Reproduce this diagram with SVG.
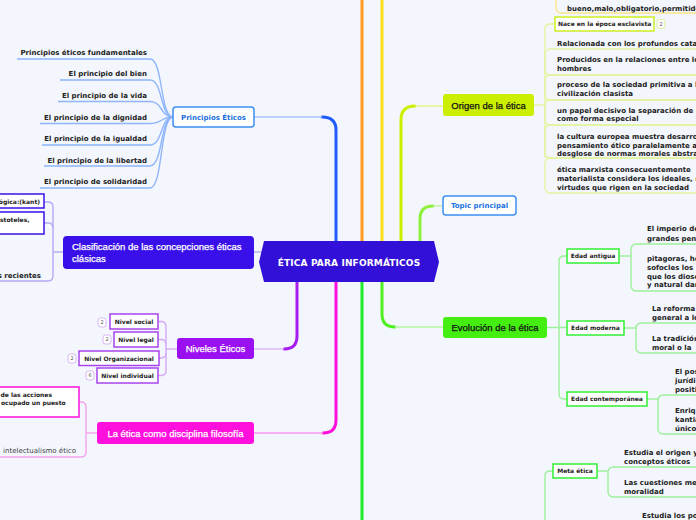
<svg xmlns="http://www.w3.org/2000/svg" width="696" height="520" viewBox="0 0 696 520">
<style>
.t{font-family:"DejaVu Sans",Verdana,sans-serif;font-weight:bold;fill:#222}
.s7{font-size:7px}
.s6{font-size:6px}
.m{font-family:"Liberation Sans",Arial,sans-serif;font-size:9.5px;stroke-width:0.25}
.w{fill:#fff;stroke:#fff}
.k{fill:#111;stroke:#111}
.t.w{stroke:none}
.c{text-anchor:middle}
.e{text-anchor:end}
.blu{fill:#1a6fe0}
.bl{fill:#fff;stroke:#3d8ef2;stroke-width:1.5}
.trunk{fill:none;stroke-width:3;stroke-linecap:round}
.br{fill:none;stroke-width:1.4}
.badge{fill:#fff;stroke-width:1}
.bt{font-family:"DejaVu Sans",sans-serif;font-size:5px;fill:#555;text-anchor:middle}
</style>
<rect width="696" height="520" fill="#f3f6fd"/>
<g id="connectors">
  <path class="trunk" stroke="#ff9a1e" d="M362,245 V-5"/>
  <path class="trunk" stroke="#ffe01a" d="M382,245 V-5"/>
  <path class="trunk" stroke="#1f5cff" d="M336,245 V130 Q336,117 322,117"/>
  <path class="br" stroke="#a9c3ff" stroke-width="2" d="M322,117 H254"/>
  <path class="trunk" stroke="#ccf000" d="M401,245 V120 Q401,106 415,106"/>
  <path class="br" stroke="#e2f77a" stroke-width="2" d="M415,106 H443"/>
  <path class="trunk" stroke="#8ef03a" d="M420,245 V219 Q420,206 433,206"/>
  <path class="br" stroke="#bff39a" stroke-width="2" d="M433,206 H443"/>
  <path class="br" stroke="#b7aef4" stroke-width="2" d="M254,252 H262"/>
  <path class="trunk" stroke="#a91cf0" d="M297,280 V336 Q297,349 284,349"/>
  <path class="br" stroke="#dcb5f7" stroke-width="2" d="M284,349 H254"/>
  <path class="trunk" stroke="#ff10dd" d="M336,280 V420 Q336,433 323,433"/>
  <path class="br" stroke="#f79aee" stroke-width="2" d="M323,433 H254"/>
  <path class="trunk" stroke="#1eee2a" d="M362,280 V525"/>
  <path class="trunk" stroke="#4ef020" d="M382,280 V314 Q382,327 395,327"/>
  <path class="br" stroke="#b4f7a0" stroke-width="2" d="M395,327 H443"/>
  <g class="br" stroke="#8fb5fb" stroke-width="1.2">
    <path d="M17,59 H150 C163,59 160,117 173,117"/>
    <path d="M60,80 H150 C163,80 160,117 173,117"/>
    <path d="M58,101.5 H150 C163,101.5 160,117 173,117"/>
    <path d="M40,123.5 H150 C163,123.5 160,117 173,117"/>
    <path d="M42,145 H150 C163,145 160,117 173,117"/>
    <path d="M44,166 H150 C163,166 160,117 173,117"/>
    <path d="M40,188 H150 C163,188 160,117 173,117"/>
  </g>
  <g class="br" stroke="#b3a9f4">
    <path d="M63,252 H53"/>
    <path d="M44,202 H48 Q53,202 53,207 V276 Q53,281 48,281 H-2"/>
    <path d="M44,223 H48 Q53,223 53,228"/>
  </g>
  <g class="br" stroke="#d4a8f6">
    <path d="M177,349 H166"/>
    <path d="M158,321.5 H161 Q166,321.5 166,326.5 V370.5 Q166,375.5 161,375.5 H158"/>
    <path d="M158,339.5 H161 Q166,339.5 166,344.5"/>
    <path d="M159,358 H161 Q166,358 166,353"/>
  </g>
  <g class="br" stroke="#f6a2ee">
    <path d="M97,433 H86"/>
    <path d="M79,402 H81 Q86,402 86,407 V452 Q86,457 81,457 H-2"/>
  </g>
  <g class="br" stroke="#e3f4a0">
    <path d="M534,105 H545"/>
    <path d="M555,24 H550 Q545,24 545,29 V158"/>
    <rect x="545" y="49" width="200" height="26" rx="5"/>
    <rect x="545" y="75" width="200" height="25" rx="5"/>
    <rect x="545" y="100" width="200" height="25" rx="5"/>
    <rect x="545" y="125" width="200" height="33" rx="5"/>
    <rect x="545" y="158" width="200" height="35" rx="5"/>
  </g>
  <rect class="br" stroke="#fbe58a" x="556" y="-30" width="200" height="43" rx="5"/>
  <g class="br" stroke="#9df09a">
    <path d="M547,327.5 H567"/>
    <path d="M567,256 H564 Q559,256 559,261 V394 Q559,399 564,399 H567"/>
    <path d="M619,256 H631"/>
    <rect x="631" y="244" width="100" height="47" rx="5"/>
    <path d="M624,328 H636"/>
    <rect x="636" y="323" width="100" height="30" rx="5"/>
    <path d="M647,399 H658"/>
    <rect x="658" y="395" width="100" height="39" rx="5"/>
    <path d="M545,525 V476 Q545,471 550,471 H553"/>
    <path d="M597,471 H608"/>
    <rect x="608" y="467" width="100" height="30" rx="5"/>
  </g>
</g>

<g id="central">
  <polygon points="264,241 434,241 439,262 434,282 264,282 259,262" fill="#3210d8"/>
  <text class="t w c" x="349" y="265.5" font-size="9" letter-spacing="0.15">ÉTICA PARA INFORMÁTICOS</text>
</g>

<g id="principios">
  <rect class="bl" x="173" y="107" width="81" height="20" rx="3"/>
  <text class="t s7 blu c" x="213.5" y="119.5">Principios Éticos</text>
</g>
<g id="p1"><text class="t s7 e" x="147" y="54.5">Principios éticos fundamentales</text></g>
<g id="p2"><text class="t s7 e" x="147" y="76">El principio del bien</text></g>
<g id="p3"><text class="t s7 e" x="147" y="98">El principio de la vida</text></g>
<g id="p4"><text class="t s7 e" x="147" y="119.5">El principio de la dignidad</text></g>
<g id="p5"><text class="t s7 e" x="147" y="141">El principio de la igualdad</text></g>
<g id="p6"><text class="t s7 e" x="147" y="162.5">El principio de la libertad</text></g>
<g id="p7"><text class="t s7 e" x="147" y="184">El principio de solidaridad</text></g>

<g id="clasificacion">
  <rect x="63" y="236" width="191" height="33" rx="4" fill="#3a10ea"/>
  <text class="m w" x="72" y="250">Clasificación de las concepciones éticas</text>
  <text class="m w" x="72" y="261.5">clásicas</text>
</g>
<g id="c1">
  <rect x="-60" y="194" width="104" height="14" fill="#fff" stroke="#3a10ea" stroke-width="1.5"/>
  <text class="t s6 e" x="40" y="203.5">ógica:(kant)</text>
</g>
<g id="c2">
  <rect x="-60" y="212" width="104" height="22" fill="#fff" stroke="#3a10ea" stroke-width="1.5"/>
  <text class="t s6" x="0" y="221.5">stoteles,</text>
</g>
<g id="c3"><text class="t s7 e" x="41" y="277.5">s recientes</text></g>

<g id="niveles">
  <rect x="177" y="338" width="77" height="21" rx="3" fill="#9a10f0"/>
  <text class="m w c" x="215.5" y="352">Niveles Éticos</text>
</g>
<g id="n1">
  <rect x="110" y="314" width="48" height="15" fill="#fff" stroke="#a844ee" stroke-width="1.5"/>
  <text class="t s6 c" x="134" y="323.8">Nivel social</text>
  <rect class="badge" stroke="#d9b4f6" x="98" y="318" width="8" height="9" rx="2.5"/>
  <text class="bt" x="102" y="324.3">2</text>
</g>
<g id="n2">
  <rect x="114" y="332" width="44" height="15" fill="#fff" stroke="#a844ee" stroke-width="1.5"/>
  <text class="t s6 c" x="136" y="341.8">Nivel legal</text>
  <rect class="badge" stroke="#d9b4f6" x="103" y="335" width="8" height="9" rx="2.5"/>
  <text class="bt" x="107" y="341.3">2</text>
</g>
<g id="n3">
  <rect x="79" y="351" width="80" height="14.5" fill="#fff" stroke="#a844ee" stroke-width="1.5"/>
  <text class="t s6 c" x="119" y="360.5">Nivel Organizacional</text>
  <rect class="badge" stroke="#d9b4f6" x="68" y="354" width="8" height="9" rx="2.5"/>
  <text class="bt" x="72" y="360.3">2</text>
</g>
<g id="n4">
  <rect x="97" y="368" width="61" height="15" fill="#fff" stroke="#a844ee" stroke-width="1.5"/>
  <text class="t s6 c" x="127.5" y="377.8">Nivel individual</text>
  <rect class="badge" stroke="#d9b4f6" x="86" y="371" width="8" height="9" rx="2.5"/>
  <text class="bt" x="90" y="377.3">6</text>
</g>

<g id="filosofia">
  <rect x="97" y="422" width="157" height="22" rx="3" fill="#ff10dd"/>
  <text class="m w c" x="175.5" y="436.5">La ética como disciplina filosofía</text>
</g>
<g id="f1">
  <rect x="-60" y="387" width="139" height="30" fill="#fff" stroke="#ff10dd" stroke-width="1.5"/>
  <text class="t s6" x="0.5" y="397">de las acciones</text>
  <text class="t s6" x="1" y="405">ocupado un puesto</text>
</g>
<g id="f2"><text class="t s7" x="3" y="453" style="font-weight:normal;fill:#444">intelectualismo ético</text></g>

<g id="top-item"><text class="t s7" x="567" y="11">bueno,malo,obligatorio,permitido</text></g>

<g id="origen">
  <rect x="443" y="94" width="91" height="22" rx="3" fill="#ccee00"/>
  <text class="m k c" x="488.5" y="108.5">Origen de la ética</text>
</g>
<g id="o1">
  <rect x="555" y="17" width="99" height="14" fill="#fff" stroke="#ccee22" stroke-width="1.5"/>
  <text class="t s6" x="558" y="26.3">Nace en la época esclavista</text>
  <rect class="badge" stroke="#dfee90" x="657" y="19.5" width="8" height="9" rx="2.5"/>
  <text class="bt" x="661" y="25.8">2</text>
</g>
<g id="o2"><text class="t s7" x="557" y="45.5">Relacionada con los profundos cata</text></g>
<g id="o3"><text class="t s7" x="557" y="61.5">Producidos en la relaciones entre lo</text><text class="t s7" x="557" y="70.5">hombres</text></g>
<g id="o4"><text class="t s7" x="557" y="87">proceso de la sociedad primitiva a la</text><text class="t s7" x="557" y="96">civilización clasista</text></g>
<g id="o5"><text class="t s7" x="557" y="112.5">un papel decisivo la separación de l</text><text class="t s7" x="557" y="121">como forma especial</text></g>
<g id="o6"><text class="t s7" x="557" y="138.5">la cultura europea muestra desarrol</text><text class="t s7" x="557" y="147.5">pensamiento ético paralelamente al</text><text class="t s7" x="557" y="156">desglose de normas morales abstra</text></g>
<g id="o7"><text class="t s7" x="557" y="172">ética marxista consecuentemente</text><text class="t s7" x="557" y="181">materialista considera los ideales, n</text><text class="t s7" x="557" y="189.5">virtudes que rigen en la sociedad</text></g>

<g id="topic">
  <rect class="bl" x="443" y="196" width="73" height="19" rx="3"/>
  <text class="t s7 blu c" x="479.5" y="208">Topic principal</text>
</g>

<g id="evolucion">
  <rect x="443" y="317" width="104" height="21" rx="3" fill="#44ee11"/>
  <text class="m k c" x="495" y="330.5">Evolución de la ética</text>
</g>
<g id="e1">
  <rect x="567" y="249" width="52" height="14" fill="#fff" stroke="#33ee33" stroke-width="1.5"/>
  <text class="t s6 c" x="593" y="258.3">Edad antigua</text>
</g>
<g id="e1a"><text class="t s7" x="647" y="230.5">El imperio de</text><text class="t s7" x="647" y="240.5">grandes pen</text></g>
<g id="e1b"><text class="t s7" x="647" y="260.5">pitagoras, he</text><text class="t s7" x="647" y="269.5">sofocles los</text><text class="t s7" x="647" y="278.5">que los diose</text><text class="t s7" x="647" y="287">y natural dar</text></g>
<g id="e2">
  <rect x="567" y="321" width="57" height="14" fill="#fff" stroke="#33ee33" stroke-width="1.5"/>
  <text class="t s6 c" x="595.5" y="330.3">Edad moderna</text>
</g>
<g id="e2a"><text class="t s7" x="652" y="310.5">La reforma</text><text class="t s7" x="652" y="320">general a lo</text></g>
<g id="e2b"><text class="t s7" x="652" y="340.5">La tradición</text><text class="t s7" x="652" y="349.5">moral o la</text></g>
<g id="e3">
  <rect x="567" y="392" width="80" height="14" fill="#fff" stroke="#33ee33" stroke-width="1.5"/>
  <text class="t s6 c" x="607" y="401.3">Edad contemporánea</text>
</g>
<g id="e3a"><text class="t s7" x="675" y="373.5">El pos</text><text class="t s7" x="675" y="382.5">jurídi</text><text class="t s7" x="675" y="391.5">positi</text></g>
<g id="e3b"><text class="t s7" x="675" y="412.5">Enriq</text><text class="t s7" x="675" y="421.5">kantia</text><text class="t s7" x="675" y="430.5">único</text></g>
<g id="meta">
  <rect x="553" y="464" width="44" height="14" fill="#fff" stroke="#33ee33" stroke-width="1.5"/>
  <text class="t s6 c" x="575" y="473.3">Meta ética</text>
</g>
<g id="m1"><text class="t s7" x="624" y="454.5">Estudia el origen y</text><text class="t s7" x="624" y="463.5">conceptos éticos</text></g>
<g id="m2"><text class="t s7" x="624" y="484.5">Las cuestiones me</text><text class="t s7" x="624" y="493.5">moralidad</text></g>
<g id="m3"><text class="t s7" x="642" y="517.5">Estudia los po</text></g>
</svg>
